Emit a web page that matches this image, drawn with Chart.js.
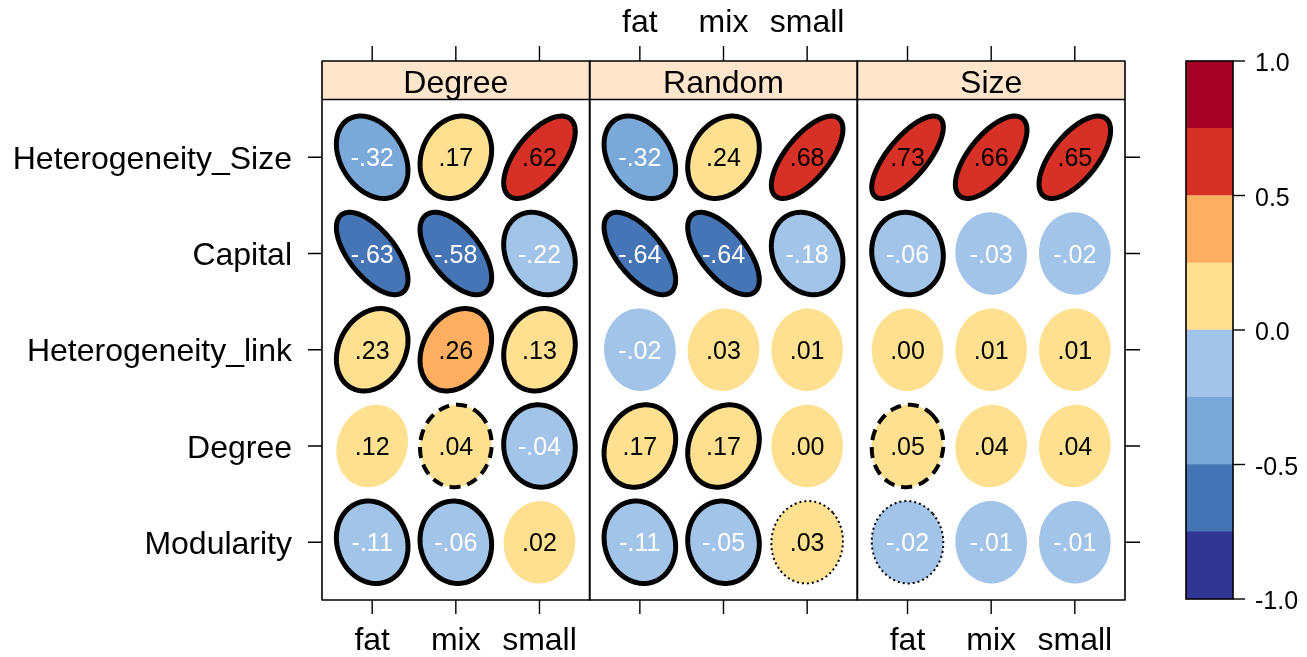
<!DOCTYPE html>
<html>
<head>
<meta charset="utf-8">
<script src="https://cdn.jsdelivr.net/npm/chart.js@4/dist/chart.umd.min.js"></script>
<style>
  html, body { margin: 0; padding: 0; background: #ffffff; }
  #wrap { position: relative; width: 1307px; height: 657px; }
  #main { position: absolute; left: 0; top: 0; }
  #bar { position: absolute; left: 1150px; top: 0; }
</style>
</head>
<body>
<div id="wrap">
  <canvas id="main" width="1307" height="657"></canvas>
  <canvas id="bar" width="157" height="657"></canvas>
</div>
<script>
// Network types (columns inside each panel) and model panels
const sizeTypes = ['fat', 'mix', 'small'];
const panels = ['Degree', 'Random', 'Size'];
// Variables, listed top row first
const variables = ['Heterogeneity_Size', 'Capital', 'Heterogeneity_link', 'Degree', 'Modularity'];

// Correlations per panel: one row per variable, one column per network type
const degreeCorr = [
  [-0.32, 0.17, 0.62],
  [-0.63, -0.58, -0.22],
  [0.23, 0.26, 0.13],
  [0.12, 0.04, -0.04],
  [-0.11, -0.06, 0.02]
];
const randomCorr = [
  [-0.32, 0.24, 0.68],
  [-0.64, -0.64, -0.18],
  [-0.02, 0.03, 0.01],
  [0.17, 0.17, 0.00],
  [-0.11, -0.05, 0.03]
];
const sizeCorr = [
  [0.73, 0.66, 0.65],
  [-0.06, -0.03, -0.02],
  [0.00, 0.01, 0.01],
  [0.05, 0.04, 0.04],
  [-0.02, -0.01, -0.01]
];

// Significance outline: S = p<.01 (solid), D = p<.05 (dashed), T = p<.1 (dotted), '' = none
const degreeSig = [['S','S','S'], ['S','S','S'], ['S','S','S'], ['','D','S'], ['S','S','']];
const randomSig = [['S','S','S'], ['S','S','S'], ['','',''], ['S','S',''], ['S','S','T']];
const sizeSig   = [['S','S','S'], ['S','',''], ['','',''], ['D','',''], ['T','','']];

// Colour key: break points and fills
const keyBreaks = [-1, -0.75, -0.5, -0.25, 0, 0.25, 0.5, 0.75, 1];
const keyColors = ['#313695', '#4575b4', '#7aa9d9', '#a2c4e8', '#fee090', '#fdae61', '#d73027', '#a50026'];
const keyTicks = [-1, -0.5, 0, 0.5, 1];

const corrSets = [degreeCorr, randomCorr, sizeCorr];
const sigSets = [degreeSig, randomSig, sizeSig];

const PANEL_W = 3.2;       // x units per panel (3 columns + 0.4 padding each side)
const Y_MIN = 0.4, Y_DATA_MAX = 5.6, Y_MAX = 6.0; // strip sits between 5.6 and 6.0
const ELL = 0.428;         // ellipse half extent in axis units
const FONT = '"Liberation Sans", Arial, sans-serif';

function fillFor(v) {
  for (let i = 0; i < keyColors.length; i++) {
    if (v < keyBreaks[i + 1] || i === keyColors.length - 1) return keyColors[i];
  }
}
function fmt(v) {
  const s = Math.abs(v).toFixed(2).replace(/^0/, '');
  return (v < 0 ? '-' : '') + s;
}
function colX(p, c) { return p * PANEL_W + c + 0.6; }
function rowY(r) { return variables.length - r; }

const datasets = panels.map((name, p) => {
  const data = [];
  corrSets[p].forEach((row, r) => row.forEach((v, c) => {
    data.push({ x: colX(p, c), y: rowY(r), v: v, sig: sigSets[p][r][c] });
  }));
  return { label: name, data: data, pointRadius: 0, pointHoverRadius: 0 };
});

// Panel frames, strips, ticks, labels and the correlation ellipses
const latticePlugin = {
  id: 'lattice',
  beforeDatasetsDraw(chart) {
    const { ctx, scales: { x, y } } = chart;
    ctx.save();
    const yTop = y.getPixelForValue(Y_MAX), yStripB = y.getPixelForValue(Y_DATA_MAX);
    panels.forEach((name, p) => {
      const x0 = x.getPixelForValue(p * PANEL_W), x1 = x.getPixelForValue((p + 1) * PANEL_W);
      ctx.fillStyle = '#ffe5cc';
      ctx.fillRect(x0, yTop, x1 - x0, yStripB - yTop);
    });
    ctx.restore();
  },
  afterDatasetsDraw(chart) {
    const { ctx, scales: { x, y } } = chart;
    ctx.save();
    // ellipses
    chart.data.datasets.forEach((ds, di) => {
      const meta = chart.getDatasetMeta(di);
      ds.data.forEach((pt, i) => {
        const el = meta.data[i];
        const d = Math.acos(pt.v);
        ctx.beginPath();
        const N = 120;
        for (let k = 0; k <= N; k++) {
          const t = (k / N) * Math.PI * 2;
          const px = x.getPixelForValue(pt.x + ELL * Math.cos(t + d / 2));
          const py = y.getPixelForValue(pt.y + ELL * Math.cos(t - d / 2));
          if (k === 0) ctx.moveTo(px, py); else ctx.lineTo(px, py);
        }
        ctx.closePath();
        ctx.fillStyle = fillFor(pt.v);
        ctx.fill();
        if (pt.sig) {
          ctx.strokeStyle = '#000';
          ctx.lineJoin = 'round';
          if (pt.sig === 'S') { ctx.lineWidth = 5; ctx.setLineDash([]); }
          else if (pt.sig === 'D') { ctx.lineWidth = 4; ctx.setLineDash([11, 7]); }
          else { ctx.lineWidth = 2; ctx.setLineDash([2, 3]); }
          ctx.stroke();
          ctx.setLineDash([]);
        }
        ctx.fillStyle = pt.v < 0 ? '#ffffff' : '#000000';
        ctx.font = '25px ' + FONT;
        ctx.textAlign = 'center';
        ctx.textBaseline = 'alphabetic';
        ctx.fillText(fmt(pt.v), el.x, el.y + 9);
      });
    });

    const yTop = y.getPixelForValue(Y_MAX), yStripB = y.getPixelForValue(Y_DATA_MAX);
    const yBot = y.getPixelForValue(Y_MIN);
    ctx.strokeStyle = '#000';
    ctx.lineWidth = 1.6;
    // panel frames and strip separators
    panels.forEach((name, p) => {
      const x0 = x.getPixelForValue(p * PANEL_W), x1 = x.getPixelForValue((p + 1) * PANEL_W);
      ctx.strokeRect(x0, yTop, x1 - x0, yBot - yTop);
      ctx.beginPath(); ctx.moveTo(x0, yStripB); ctx.lineTo(x1, yStripB); ctx.stroke();
      ctx.fillStyle = '#000';
      ctx.font = '32px ' + FONT;
      ctx.textAlign = 'center';
      ctx.textBaseline = 'alphabetic';
      ctx.fillText(name, (x0 + x1) / 2, yStripB - 7);
    });

    // column ticks (top and bottom) with alternating labels
    ctx.lineWidth = 1.4;
    ctx.font = '32px ' + FONT;
    ctx.textAlign = 'center';
    panels.forEach((name, p) => {
      sizeTypes.forEach((lab, c) => {
        const px = x.getPixelForValue(colX(p, c));
        ctx.beginPath();
        ctx.moveTo(px, yTop); ctx.lineTo(px, yTop - 15);
        ctx.moveTo(px, yBot); ctx.lineTo(px, yBot + 14);
        ctx.stroke();
        if (p % 2 === 0) ctx.fillText(lab, px, yBot + 50);
        else ctx.fillText(lab, px, yTop - 29);
      });
    });

    // row ticks (left and right) with labels on the left
    const xl = x.getPixelForValue(0), xr = x.getPixelForValue(panels.length * PANEL_W);
    ctx.textAlign = 'right';
    variables.forEach((lab, r) => {
      const py = y.getPixelForValue(rowY(r));
      ctx.beginPath();
      ctx.moveTo(xl, py); ctx.lineTo(xl - 14, py);
      ctx.moveTo(xr, py); ctx.lineTo(xr + 15, py);
      ctx.stroke();
      ctx.fillText(lab, xl - 30, py + 11.5);
    });
    ctx.restore();
  }
};

new Chart(document.getElementById('main'), {
  type: 'scatter',
  data: { datasets: datasets },
  options: {
    responsive: false,
    animation: false,
    events: [],
    layout: { padding: { left: 322, right: 182, top: 61, bottom: 57 } },
    plugins: { legend: { display: false }, tooltip: { enabled: false } },
    scales: {
      x: { type: 'linear', min: 0, max: panels.length * PANEL_W, display: false },
      y: { type: 'linear', min: Y_MIN, max: Y_MAX, display: false }
    }
  },
  plugins: [latticePlugin]
});

// Colour key drawn as stacked floating bars
const keyPlugin = {
  id: 'keyFrame',
  afterDatasetsDraw(chart) {
    const { ctx, chartArea: a, scales: { y } } = chart;
    ctx.save();
    ctx.strokeStyle = '#000';
    ctx.lineWidth = 1.6;
    ctx.strokeRect(a.left, a.top, a.right - a.left, a.bottom - a.top);
    ctx.lineWidth = 1.4;
    ctx.fillStyle = '#000';
    ctx.font = '25px ' + FONT;
    ctx.textAlign = 'left';
    ctx.textBaseline = 'alphabetic';
    keyTicks.forEach(v => {
      const py = y.getPixelForValue(v);
      ctx.beginPath(); ctx.moveTo(a.right, py); ctx.lineTo(a.right + 12, py); ctx.stroke();
      ctx.fillText(v.toFixed(1), a.right + 22, py + 10);
    });
    ctx.restore();
  }
};

new Chart(document.getElementById('bar'), {
  type: 'bar',
  data: {
    labels: [''],
    datasets: keyColors.map((col, i) => ({
      data: [[keyBreaks[i], keyBreaks[i + 1]]],
      backgroundColor: col,
      borderWidth: 0,
      barPercentage: 1,
      categoryPercentage: 1,
      grouped: false
    }))
  },
  options: {
    responsive: false,
    animation: false,
    events: [],
    layout: { padding: { left: 36, right: 74, top: 61, bottom: 58 } },
    plugins: { legend: { display: false }, tooltip: { enabled: false } },
    scales: {
      x: { display: false },
      y: { type: 'linear', min: -1, max: 1, display: false }
    }
  },
  plugins: [keyPlugin]
});
</script>
</body>
</html>
